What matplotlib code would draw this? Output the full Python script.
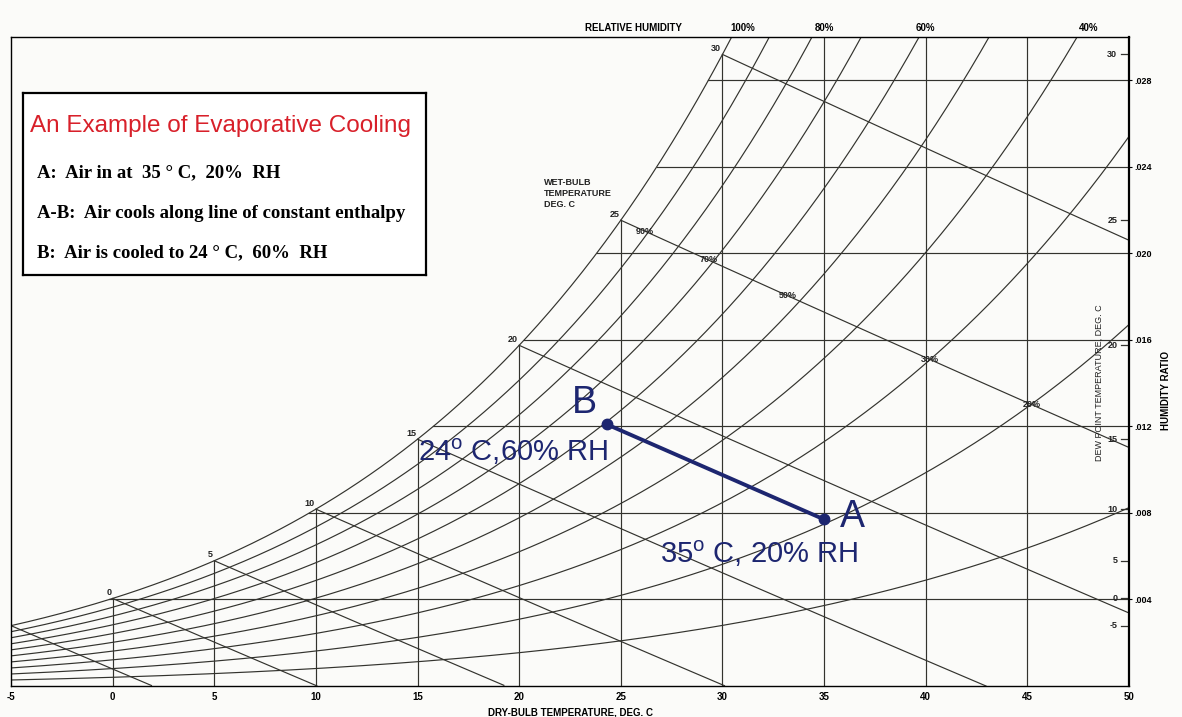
"""Psychrometric chart with an evaporative cooling example (A -> B)."""
import numpy as np
import matplotlib
matplotlib.use("Agg")
import matplotlib.pyplot as plt
from matplotlib import transforms

P_ATM = 94.5  # kPa, chart pressure

RH_LEVELS = [1.0, 0.9, 0.8, 0.7, 0.6, 0.5, 0.4, 0.3, 0.2, 0.1]
WB_TEMPS = [-5, 0, 5, 10, 15, 20, 25, 30]
WB_LABELS = [0, 5, 10, 15, 20, 25, 30]
DB_LINES = [0, 5, 10, 15, 20, 25, 30, 35, 40, 45]
DB_TICKS = [-5, 0, 5, 10, 15, 20, 25, 30, 35, 40, 45, 50]
W_TICKS = [0.004, 0.008, 0.012, 0.016, 0.020, 0.024, 0.028]
W_TICK_LABELS = [".004", ".008", ".012", ".016", ".020", ".024", ".028"]
DEW_TICKS = [-5, 0, 5, 10, 15, 20, 25, 30]

RH_TOP_LABELS = ["100%", "80%", "60%", "40%"]
RH_TOP_T = [31.0, 35.0, 40.0, 48.0]
RH_MID_LABELS = ["90%", "70%", "50%", "30%", "20%"]
RH_MID_T = [26.2, 29.3, 33.2, 40.2, 45.2]

POINT_A = (35.0, 0.0077)
POINT_B = (24.3, 0.0121)

NAVY = "#1d2670"
LINE = "#33332e"
BG = "#fbfbf9"


def p_sat(t):
    return 0.61094 * np.exp(17.625 * t / (t + 243.04))


def w_sat(t, rh=1.0):
    pv = rh * p_sat(t)
    return 0.622 * pv / (P_ATM - pv)


def t_dew(w):
    pv = w * P_ATM / (0.622 + w)
    g = np.log(pv / 0.61094)
    return 243.04 * g / (17.625 - g)


def w_wetbulb(t, twb):
    ws = w_sat(twb)
    return ((2501 - 2.326 * twb) * ws - 1.006 * (t - twb)) / (2501 + 1.86 * t - 4.186 * twb)


plt.rcParams["font.family"] = ["Liberation Sans", "DejaVu Sans"]
fig = plt.figure(figsize=(11.82, 7.17), dpi=100, facecolor=BG)
ax = fig.add_axes([11 / 1182, 31 / 717, 1118 / 1182, 649 / 717], facecolor=BG)
ax.set_xlim(-5, 50)
ax.set_ylim(0, 0.030)

lw = 0.85
tt = np.linspace(-5, 50, 400)
for rh in RH_LEVELS:
    ax.plot(tt, w_sat(tt, rh), color=LINE, lw=lw)

for twb in WB_TEMPS:
    t = np.linspace(twb, 50, 200)
    w = w_wetbulb(t, twb)
    keep = w >= 0
    ax.plot(t[keep], w[keep], color=LINE, lw=lw)

for t in DB_LINES:
    ax.plot([t, t], [0, w_sat(t)], color=LINE, lw=lw)

for w in W_TICKS:
    ax.plot([t_dew(w), 50], [w, w], color=LINE, lw=lw)

small = dict(fontsize=6.5, fontweight="bold", color="#222")
for t in WB_LABELS:
    ax.annotate(str(t), (t, w_sat(t)), xytext=(-1, 1), textcoords="offset points",
                ha="right", va="bottom", **small)

ax.text(21.2, 0.0235, "WET-BULB\nTEMPERATURE\nDEG. C", ha="left", va="top",
        linespacing=1.3, **small)

for lab, t in zip(RH_MID_LABELS, RH_MID_T):
    ax.text(t, w_wetbulb(t, 25), lab, ha="center", va="center", **small)

top = transforms.blended_transform_factory(ax.transData, ax.transAxes)
ax.text(25.6, 1.006, "RELATIVE HUMIDITY", transform=top, ha="center", va="bottom",
        fontsize=7, fontweight="bold")
for lab, t in zip(RH_TOP_LABELS, RH_TOP_T):
    ax.text(t, 1.006, lab, transform=top, ha="center", va="bottom",
            fontsize=7, fontweight="bold")

# dew point scale, drawn inside the right edge
right = transforms.blended_transform_factory(ax.transAxes, ax.transData)
for d in DEW_TICKS:
    wd = w_sat(d)
    ax.plot([0.993, 1.0], [wd, wd], transform=right, color=LINE, lw=0.9)
    ax.text(0.9895, wd, str(d), transform=right, ha="right", va="center", **small)
ax.text(0.9735, 0.0140, "DEW POINT TEMPERATURE, DEG. C", transform=right,
        rotation=90, ha="center", va="center", fontsize=6.5, color="#222")

ax.yaxis.tick_right()
ax.set_yticks(W_TICKS)
ax.set_yticklabels(W_TICK_LABELS)
ax.tick_params(axis="y", length=2, pad=2, labelsize=6.5)
for lab in ax.get_yticklabels():
    lab.set_fontweight("bold")
ax.text(1.033, 0.455, "HUMIDITY RATIO", transform=ax.transAxes, rotation=90,
        ha="center", va="center", fontsize=7, fontweight="bold")

ax.set_xticks(DB_TICKS)
ax.set_xticklabels([str(t) for t in DB_TICKS])
ax.tick_params(axis="x", length=0, pad=4, labelsize=7)
for lab in ax.get_xticklabels():
    lab.set_fontweight("bold")
ax.set_xlabel("DRY-BULB TEMPERATURE, DEG. C", fontsize=7, fontweight="bold", labelpad=4)

for side in ["left", "bottom", "top"]:
    ax.spines[side].set_linewidth(1.0)
ax.spines["right"].set_linewidth(1.6)

# evaporative cooling path
ax.plot([POINT_A[0], POINT_B[0]], [POINT_A[1], POINT_B[1]], color=NAVY, lw=2.8,
        marker="o", ms=7.5, zorder=5)
ax.text(35.8, 0.00735, "A", color=NAVY, fontsize=27, ha="left", va="baseline")
ax.text(22.6, 0.0126, "B", color=NAVY, fontsize=27, ha="left", va="baseline")
ax.text(15.0, 0.0104, r"24$^\mathregular{o}$ C,60% RH", color=NAVY, fontsize=21,
        ha="left", va="baseline")
ax.text(26.95, 0.0057, r"35$^\mathregular{o}$ C, 20% RH", color=NAVY, fontsize=21,
        ha="left", va="baseline")

# explanation box
box = fig.add_axes([23 / 1182, (717 - 275) / 717, 403 / 1182, 182 / 717], facecolor="white")
box.set_xticks([])
box.set_yticks([])
for s in box.spines.values():
    s.set_linewidth(1.6)
box.text(0.017, 0.82, "An Example of Evaporative Cooling", color="#d8202a",
         fontsize=17.5, ha="left", va="center")
serif = dict(family=["Liberation Serif", "DejaVu Serif"], fontweight="bold",
             fontsize=13.5, ha="left", va="center")
box.text(0.035, 0.56, "A:  Air in at  35 \u00b0 C,  20%  RH", **serif)
box.text(0.035, 0.34, "A-B:  Air cools along line of constant enthalpy", **serif)
box.text(0.035, 0.12, "B:  Air is cooled to 24 \u00b0 C,  60%  RH", **serif)

fig.savefig("out.png", dpi=100, facecolor=BG)
